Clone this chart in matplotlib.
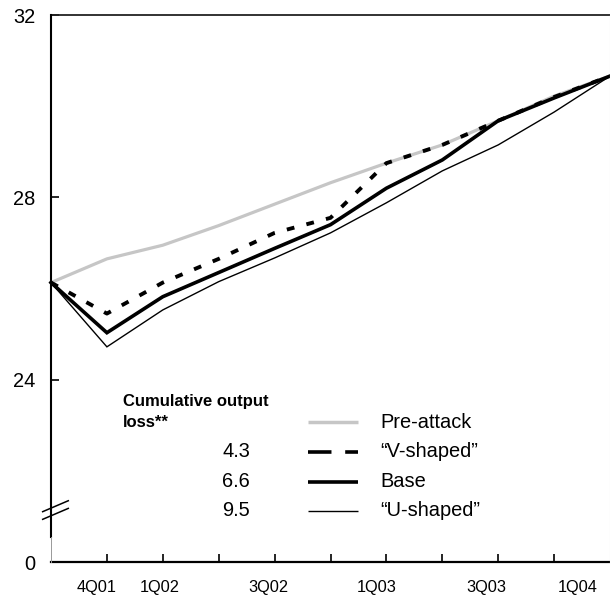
import matplotlib
matplotlib.use("Agg")
import matplotlib.pyplot as plt

plt.rcParams['font.family'] = ['Liberation Sans', 'DejaVu Sans']

# ---- data ----
quarters = ['3Q01', '4Q01', '1Q02', '2Q02', '3Q02', '4Q02',
            '1Q03', '2Q03', '3Q03', '4Q03', '1Q04']
pre_attack = [26.13, 26.65, 26.95, 27.38, 27.85, 28.32, 28.75, 29.15, 29.68, 30.22, 30.66]
v_shaped   = [26.13, 25.45, 26.13, 26.65, 27.22, 27.55, 28.75, 29.15, 29.68, 30.20, 30.66]
base       = [26.13, 25.03, 25.82, 26.35, 26.88, 27.40, 28.20, 28.82, 29.68, 30.18, 30.66]
u_shaped   = [26.13, 24.72, 25.53, 26.15, 26.67, 27.22, 27.88, 28.58, 29.15, 29.87, 30.66]

series_names = ['Pre-attack', '\u201cV-shaped\u201d', 'Base', '\u201cU-shaped\u201d']
output_loss = ['', '4.3', '6.6', '9.5']
shown_labels = ['4Q01', '1Q02', '3Q02', '1Q03', '3Q03', '1Q04']
y_ticks = [20, 24, 28, 32]
y_tick_labels = ['0', '24', '28', '32']

# ---- figure ----
fig = plt.figure(figsize=(6.1, 5.98), dpi=100)
ax = fig.add_axes([51/610, 1 - 562/598, 559/610, 547/598])

x = list(range(len(quarters)))

styles = [
    dict(color='#c6c6c6', lw=2.3, ls='-'),
    dict(color='black', lw=2.8, ls=(0, (2.0, 3.2))),
    dict(color='black', lw=2.6, ls='-'),
    dict(color='black', lw=1.0, ls='-'),
]
for vals, st in zip([pre_attack, v_shaped, base, u_shaped], styles):
    ax.plot(x, vals, color=st['color'], lw=st['lw'], ls=st['ls'],
            solid_joinstyle='miter', dash_capstyle='butt', clip_on=False, zorder=3)

ax.set_xlim(0, len(quarters) - 1)
ax.set_ylim(20, 32)

# spines
for s in ['top', 'bottom', 'left', 'right']:
    ax.spines[s].set_visible(False)
ax.plot([0, 1], [1, 1], transform=ax.transAxes, color='#222222', lw=1.3, clip_on=False, zorder=4)
ax.plot([0, 1], [0, 0], transform=ax.transAxes, color='black', lw=1.6, clip_on=False, zorder=4)
ax.plot([1, 1], [0, 1], transform=ax.transAxes, color='#e2e2e2', lw=0.8, clip_on=False, zorder=4)
ax.plot([0, 0], [0.0457, 1], transform=ax.transAxes, color='black', lw=1.5, clip_on=False, zorder=4)
ax.plot([0, 0], [0, 0.0457], transform=ax.transAxes, color='#999999', lw=0.7, clip_on=False, zorder=4)

# axis break marks
x0, x1 = -0.0149, 0.0309
ax.plot([x0, x1], [0.092, 0.112], transform=ax.transAxes, color='black', lw=1.1, clip_on=False, zorder=6)
ax.plot([x0, x1], [0.078, 0.098], transform=ax.transAxes, color='black', lw=1.1, clip_on=False, zorder=6)

# ticks
ax.set_xticks(x[1:-1])
ax.set_xticklabels([])
ax.tick_params(axis='x', direction='in', length=5.5, width=1.2, color='black')
ax.set_yticks(y_ticks)
ax.set_yticklabels(y_tick_labels, fontsize=14.4)
ax.tick_params(axis='y', direction='in', length=5.5, width=1.2, pad=11, color='black')

# x labels (placed slightly left of their quarter, as in the reference)
label_shift = [-0.18, -0.05, -0.12, -0.17, -0.22, -0.57]
for lab, sh in zip(shown_labels, label_shift):
    xi = quarters.index(lab)
    ax.text(xi + sh, -0.0548, lab, transform=ax.get_xaxis_transform(),
            ha='center', va='baseline', fontsize=11.8, clip_on=False)

# legend (manual)
ax.text(0.1288, (562 - 406) / 547, 'Cumulative output', transform=ax.transAxes,
        ha='left', va='baseline', fontsize=12, fontweight='bold')
ax.text(0.1288, (562 - 426.7) / 547, 'loss**', transform=ax.transAxes,
        ha='left', va='baseline', fontsize=12, fontweight='bold')

line_y = [422, 452, 482, 511]
base_y = [427.7, 457, 486.7, 516.5]
legend_styles = [
    dict(color='#c6c6c6', lw=2.5, ls='-'),
    dict(color='black', lw=2.6, ls=(0, (6.5, 3.8))),
    dict(color='black', lw=2.6, ls='-'),
    dict(color='black', lw=1.0, ls='-'),
]
for name, num, ly, by, st in zip(series_names, output_loss, line_y, base_y, legend_styles):
    yy = (562 - ly) / 547
    ax.plot([(308 - 51) / 559, (358 - 51) / 559], [yy, yy], transform=ax.transAxes,
            color=st['color'], lw=st['lw'], ls=st['ls'], dash_capstyle='butt',
            solid_capstyle='butt', clip_on=False)
    ax.text((380 - 51) / 559, (562 - by) / 547, name, transform=ax.transAxes,
            ha='left', va='baseline', fontsize=14.4)
    if num:
        ax.text((236 - 51) / 559, (562 - by) / 547, num, transform=ax.transAxes,
                ha='center', va='baseline', fontsize=14.4)

fig.savefig('out.png', dpi=100)
